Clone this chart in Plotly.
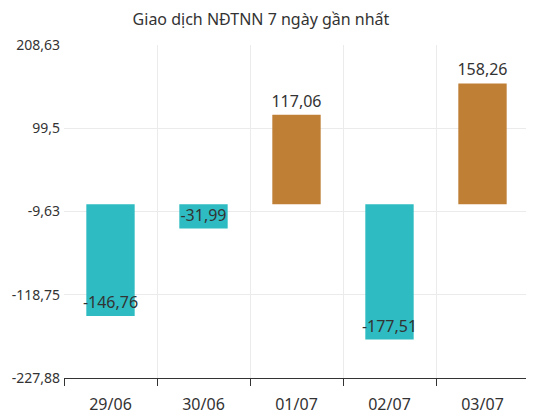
import plotly.graph_objects as go

categories = ["29/06", "30/06", "01/07", "02/07", "03/07"]
values = [-146.76, -31.99, 117.06, -177.51, 158.26]
labels = ["-146,76", "-31,99", "117,06", "-177,51", "158,26"]
tick_vals = [208.63, 99.5, -9.63, -118.75, -227.88]
tick_text = ["208,63", "99,5", "-9,63", "-118,75", "-227,88"]

POS = "#BF7F35"
NEG = "#2EBCC2"
colors = [POS if v >= 0 else NEG for v in values]
positions = ["outside" if v >= 0 else "inside" for v in values]

FONT = "Noto Sans"
FS = 16

fig = go.Figure(go.Bar(
    x=categories, y=values,
    marker=dict(color=colors, line=dict(width=0)),
    width=0.52,
    text=labels, textposition=positions, textangle=0,
    insidetextanchor="end",
    textfont=dict(family=FONT, size=FS, color="#333333"),
    insidetextfont=dict(family=FONT, size=FS, color="#333333"),
    outsidetextfont=dict(family=FONT, size=FS, color="#333333"),
    constraintext="none", cliponaxis=False,
))

# page body has an 8px margin, so the figure is sized to fill the rest of the window
fig.update_layout(
    width=526, height=411,
    margin=dict(l=56, r=5, t=37, b=41, autoexpand=False),
    paper_bgcolor="white", plot_bgcolor="white",
    showlegend=False,
    title=dict(text="Giao dịch NĐTNN 7 ngày gần nhất", x=0.481, xanchor="center",
               y=0.973, yanchor="middle",
               font=dict(family=FONT, size=FS, color="#333333")),
    font=dict(family=FONT, size=FS, color="#333333"),
)
fig.update_xaxes(
    type="category", tickson="boundaries", automargin=False,
    showgrid=True, gridcolor="#EBEBEB", gridwidth=1,
    showline=True, linecolor="#333333", linewidth=1,
    ticks="outside", ticklen=7, tickcolor="#333333",
    ticklabelstandoff=12,
    tickfont=dict(family=FONT, size=FS, color="#333333"),
)
fig.update_yaxes(
    range=[-227.88, 208.63], tickvals=tick_vals, ticktext=tick_text,
    automargin=False,
    showgrid=True, gridcolor="#EBEBEB", gridwidth=1,
    zeroline=False, showline=False, ticks="", ticklen=0,
    ticklabelstandoff=3,
    tickfont=dict(family=FONT, size=14, color="#333333"),
)

fig.write_html("out.html")
